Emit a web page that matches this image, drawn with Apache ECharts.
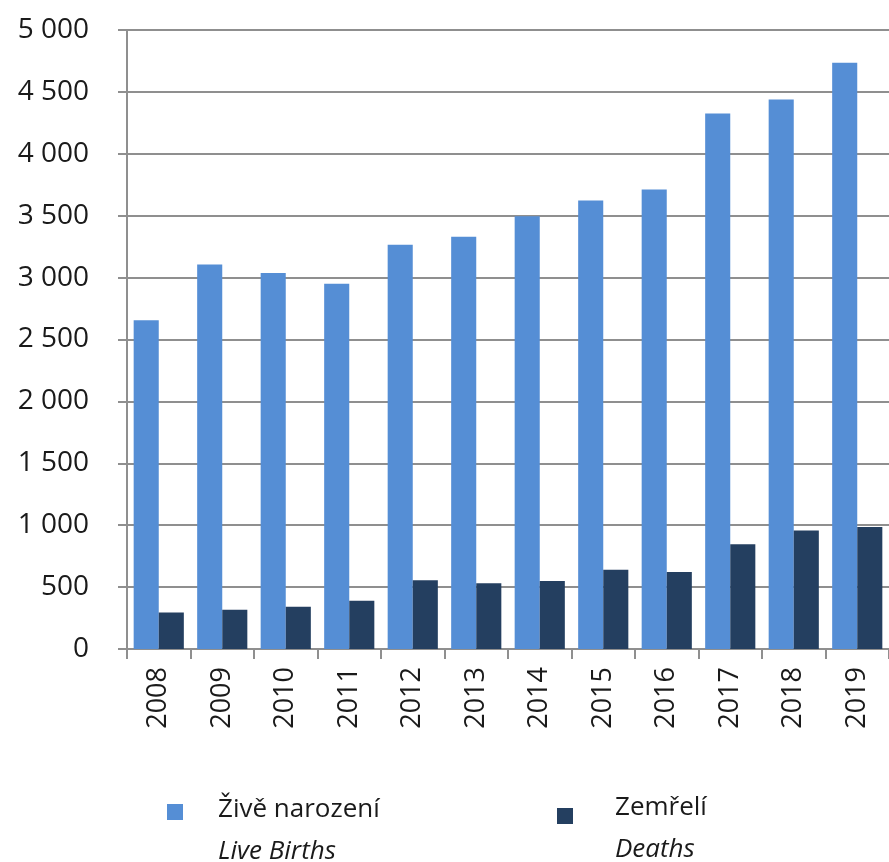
<!DOCTYPE html>
<html>
<head>
<meta charset="utf-8">
<title>Živě narození / Zemřelí</title>
<script src="https://cdn.jsdelivr.net/npm/echarts@6/dist/echarts.min.js"></script>
<style>
html,body{margin:0;padding:0;background:#fff;}
#div_barMap{width:889px;height:862px;}
</style>
</head>
<body>
<div id="div_barMap"></div>
<script>
// data
var years = ['2008','2009','2010','2011','2012','2013','2014','2015','2016','2017','2018','2019'];
var births = [2655, 3105, 3038, 2950, 3265, 3330, 3495, 3622, 3712, 4326, 4438, 4735];
var deaths = [295, 318, 342, 390, 555, 532, 550, 640, 622, 846, 957, 985];
var yTicks = [0, 500, 1000, 1500, 2000, 2500, 3000, 3500, 4000, 4500, 5000];

var fontName = '"Open Sans", "Noto Sans", sans-serif';
var gridColor = '#8f8f8f';

function spaceThousands(v){
	if (v < 1000) {
		return '' + v;
	}
	return Math.floor(v/1000) + ' ' + ('00' + (v % 1000)).slice(-3);
}

// empty first line pushes the two text lines down next to the square
function legendRich(topGap, indent){
	return {
		e: {fontSize: 10, lineHeight: topGap},
		a: {fontFamily: fontName, fontSize: 26, color: '#1a1a1a', lineHeight: 42, padding: [0,0,0,indent]},
		b: {fontFamily: fontName, fontSize: 26, fontStyle: 'italic', color: '#1a1a1a', lineHeight: 42, padding: [0,0,0,indent]}
	};
}

var option = {
	animation: false,
	backgroundColor: '#ffffff',
	grid: {
		left: 127,
		right: 0,
		top: 30,
		bottom: 213
	},
	legend: [
		{
			data: ['Živě narození'],
			left: 162,
			top: 760,
			icon: 'rect',
			itemWidth: 16,
			itemHeight: 16,
			selectedMode: false,
			formatter: function(){ return '{e| }\n{a|Živě narození}\n{b|Live Births}'; },
			textStyle: {rich: legendRich(38, 30)}
		},
		{
			data: ['Zemřelí'],
			left: 552,
			top: 764,
			icon: 'rect',
			itemWidth: 16,
			itemHeight: 16,
			selectedMode: false,
			formatter: function(){ return '{e| }\n{a|Zemřelí}\n{b|Deaths}'; },
			textStyle: {rich: legendRich(26, 37)}
		}
	],
	xAxis: {
		type: 'category',
		data: years,
		axisLine: {lineStyle: {color: gridColor, width: 2}},
		axisTick: {show: true, length: 10, lineStyle: {color: gridColor, width: 2}},
		axisLabel: {
			rotate: 90,
			margin: 18,
			interval: 0,
			fontFamily: fontName,
			fontSize: 27,
			color: '#1a1a1a'
		}
	},
	yAxis: {
		type: 'value',
		min: yTicks[0],
		max: yTicks[yTicks.length - 1],
		interval: 500,
		axisLine: {show: true, lineStyle: {color: gridColor, width: 2}},
		axisTick: {show: true, inside: false, length: 9, lineStyle: {color: gridColor, width: 2}},
		splitLine: {lineStyle: {color: gridColor, width: 2}},
		axisLabel: {
			margin: 38,
			fontFamily: fontName,
			fontSize: 28,
			color: '#1a1a1a',
			formatter: spaceThousands
		}
	},
	series: [
		{
			name: 'Živě narození',
			type: 'bar',
			data: births,
			barGap: '0%',
			barCategoryGap: '21%',
			itemStyle: {color: '#558ed5'}
		},
		{
			name: 'Zemřelí',
			type: 'bar',
			data: deaths,
			itemStyle: {color: '#243f60'}
		}
	]
};

var myChart = echarts.init(document.getElementById('div_barMap'));
myChart.setOption(option);
</script>
</body>
</html>
